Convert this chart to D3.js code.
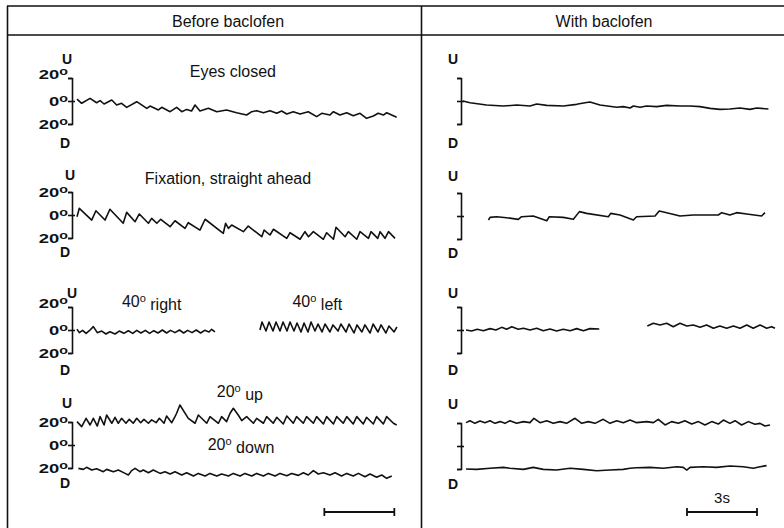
<!DOCTYPE html>
<html>
<head>
<meta charset="utf-8">
<script src="https://cdn.jsdelivr.net/npm/d3@7"></script>
<style>
  body { margin: 0; background: #fff; }
  svg { display: block; }
  text { font-family: "Liberation Sans", Arial, Helvetica, sans-serif; fill: #111; }
</style>
</head>
<body>
<div id="chart"></div>
<script>
// panel headings and row captions
const panelTitles = ["Before baclofen", "With baclofen"];
const scaleBarLabel = "3s";
const degTicks = [20, 0, -20];

// eye position traces: [time (s), vertical position (deg, up +)]
const eyesClosedBefore = [[0,1.7],[0.2,-2.0],[0.56,2.3],[0.84,-1.5],[0.99,0.3],[1.16,-2.6],[1.49,0.9],[1.7,-3.5],[1.91,-2.0],[2.13,-5.5],[2.56,-0.6],[2.99,-6.4],[3.13,-4.4],[3.49,-7.8],[3.63,-5.5],[3.99,-9.3],[4.27,-5.5],[4.49,-9.3],[4.7,-7.3],[4.91,-8.7],[5.06,-3.5],[5.27,-8.7],[5.63,-6.4],[5.99,-9.3],[6.41,-7.8],[6.84,-10.2],[7.27,-12.2],[7.49,-9.3],[7.7,-8.4],[7.99,-10.2],[8.27,-8.4],[8.56,-10.7],[8.77,-8.7],[8.99,-11.3],[9.27,-9.3],[9.56,-11.3],[9.91,-9.3],[10.27,-13.6],[10.49,-10.7],[10.84,-12.2],[10.99,-9.3],[11.27,-12.2],[11.56,-10.2],[11.84,-12.8],[12.13,-10.7],[12.41,-15.1],[12.7,-13.1],[12.91,-10.7],[13.13,-12.2],[13.27,-10.2],[13.7,-14.2]];

const fixationBefore = [[0,-1.5],[0.1,5.8],[0.63,-4.4],[0.81,3.7],[1.2,-4.4],[1.41,5.0],[1.98,-7.2],[2.13,2.3],[2.49,-5.8],[2.67,0.9],[3.06,-7.2],[3.2,-2.9],[3.42,-7.2],[3.59,-3.7],[3.99,-10.2],[4.2,-5.0],[4.63,-11.6],[4.77,-6.7],[5.27,-13.1],[5.49,-3.7],[6.27,-15.9],[6.37,-7.2],[6.49,-11.6],[6.63,-8.7],[7.13,-14.5],[7.34,-9.6],[7.92,-18.9],[8.02,-13.1],[8.27,-17.4],[8.42,-12.4],[8.99,-20.3],[9.13,-15.4],[9.56,-21.1],[9.77,-14.5],[9.92,-18.9],[10.13,-14.5],[10.56,-21.1],[10.7,-15.4],[10.99,-21.1],[11.1,-10.7],[11.49,-18.9],[11.63,-14.5],[11.99,-21.1],[12.13,-14.5],[12.49,-20.3],[12.6,-14.5],[12.89,-20.3],[12.99,-14.5],[13.2,-20.3],[13.35,-14.5],[13.63,-20.3]];

const right40Before = [[0,0.6],[0.1,-2.3],[0.24,-0.3],[0.39,-2.9],[0.53,-0.6],[0.7,2.9],[0.87,-2.3],[1.06,-0.9],[1.24,-3.5],[1.41,-1.5],[1.63,-3.5],[1.81,-0.9],[2.01,-2.9],[2.2,-0.6],[2.39,-2.9],[2.56,-0.3],[2.74,-2.6],[2.93,-0.3],[3.11,-2.9],[3.29,-0.6],[3.47,-2.6],[3.66,0],[3.84,-2.6],[4.01,-0.3],[4.2,-2.3],[4.39,0],[4.57,-2.6],[4.74,-0.3],[4.93,-2.3],[5.11,0],[5.3,-2.6],[5.47,-0.3],[5.66,-1.7],[5.77,0.6],[5.91,-1.7]];

const left40Before = [[7.84,0],[7.93,7.0],[8.1,-0.9],[8.23,7.0],[8.4,-0.9],[8.53,7.0],[8.7,-0.9],[8.83,7.0],[9.0,-0.9],[9.13,7.0],[9.3,-0.9],[9.43,6.1],[9.6,-1.7],[9.73,6.1],[9.9,-1.7],[10.03,7.0],[10.2,-0.9],[10.33,5.2],[10.5,-1.7],[10.63,5.2],[10.84,-1.7],[10.97,4.4],[11.19,-0.9],[11.31,5.2],[11.53,-1.7],[11.66,5.2],[11.87,-2.6],[12.0,4.4],[12.21,-1.7],[12.34,4.4],[12.56,-2.6],[12.69,5.2],[12.9,-1.7],[13.03,4.4],[13.24,-2.6],[13.37,3.5],[13.59,-1.7],[13.71,2.6]];

const up20Before = [[0,20.3],[0.2,16.0],[0.39,23.2],[0.56,17.4],[0.7,23.2],[0.87,16.5],[0.99,24.7],[1.16,17.4],[1.27,26.1],[1.49,18.9],[1.63,24.1],[1.77,18.9],[1.91,23.2],[2.1,18.9],[2.24,22.3],[2.41,18.9],[2.56,23.2],[2.73,19.4],[2.87,22.3],[3.06,18.9],[3.2,21.8],[3.39,19.4],[3.53,23.2],[3.73,18.9],[3.84,25.2],[4.06,19.4],[4.2,24.7],[4.27,27.6],[4.41,34.8],[4.77,23.2],[5.06,18.9],[5.2,26.1],[5.56,18.9],[5.7,24.7],[6.06,18.9],[6.2,24.7],[6.41,20.3],[6.56,27.6],[6.7,31.9],[6.91,26.1],[7.06,21.2],[7.27,24.7],[7.56,18.9],[7.7,23.2],[7.99,18.9],[8.13,24.7],[8.41,18.9],[8.56,24.1],[8.84,18.3],[8.99,25.2],[9.27,18.9],[9.41,24.7],[9.7,18.9],[9.84,24.7],[10.13,18.9],[10.27,24.7],[10.56,18.3],[10.7,24.7],[10.99,18.3],[11.13,24.7],[11.41,18.9],[11.56,24.7],[11.84,18.3],[11.99,24.7],[12.27,18.3],[12.41,24.1],[12.7,18.3],[12.84,24.7],[13.13,18.3],[13.27,24.7],[13.56,18.9],[13.7,17.4]];

const down20Before = [[0.06,-20.3],[0.27,-21.2],[0.41,-19.4],[0.63,-21.8],[0.84,-20.6],[1.13,-23.2],[1.27,-21.2],[1.56,-23.2],[1.77,-21.8],[2.06,-24.7],[2.2,-26.1],[2.34,-22.3],[2.49,-20.3],[2.7,-23.2],[2.84,-21.8],[3.06,-24.1],[3.27,-21.8],[3.56,-24.7],[3.77,-23.2],[3.99,-25.2],[4.2,-23.2],[4.49,-26.1],[4.7,-24.1],[4.99,-27.0],[5.2,-24.7],[5.49,-27.0],[5.7,-24.7],[5.99,-27.0],[6.2,-25.2],[6.49,-27.0],[6.7,-24.7],[6.99,-27.0],[7.2,-24.7],[7.49,-27.0],[7.7,-24.7],[7.99,-27.0],[8.2,-24.7],[8.49,-27.0],[8.7,-24.7],[8.99,-26.7],[9.2,-24.7],[9.49,-26.4],[9.7,-24.1],[9.91,-26.1],[10.13,-22.3],[10.34,-25.2],[10.56,-24.1],[10.84,-26.1],[11.06,-24.1],[11.34,-27.0],[11.56,-24.7],[11.84,-27.0],[12.06,-24.7],[12.34,-27.6],[12.56,-25.2],[12.84,-28.1],[13.06,-26.1],[13.27,-29.0],[13.49,-27.0]];

const eyesClosedWith = [[0,0],[0.3,-1.5],[1.01,-3.5],[1.73,-4.4],[2.3,-3.5],[2.87,-4.4],[3.16,-2.6],[3.59,-3.8],[4.3,-4.4],[4.87,-2.9],[5.23,-1.5],[5.44,-0.9],[5.87,-3.5],[6.59,-5.5],[6.87,-4.9],[7.16,-6.1],[7.3,-4.4],[7.59,-5.5],[7.87,-4.4],[8.3,-4.9],[8.73,-3.8],[9.3,-4.4],[9.73,-4.4],[10.16,-4.9],[10.59,-6.4],[11.01,-7.3],[11.44,-7.0],[11.87,-6.1],[12.3,-7.3],[12.59,-6.1],[13.09,-7.0]];

const fixationWith = [[1.09,-3.5],[1.16,-1.2],[1.44,-0.6],[1.87,-1.5],[2.37,-2.9],[2.51,-0.6],[3.01,0],[3.59,-4.1],[3.7,-0.6],[4.3,-1.2],[4.73,-2.9],[4.99,3.8],[5.3,2.3],[6.23,-0.6],[6.33,2.3],[6.73,0.9],[7.3,-3.5],[7.44,-0.6],[8.23,0],[8.41,4.4],[8.73,2.9],[9.3,0],[9.87,0.9],[10.94,0.9],[11.09,2.9],[11.44,0.9],[11.73,2.9],[12.16,1.7],[12.8,0],[12.94,2.9]];

const right40With = [[0.13,0],[0.37,-0.9],[0.61,0.6],[0.87,-0.6],[1.16,1.2],[1.41,0],[1.66,2.3],[1.87,0.6],[2.09,2.9],[2.37,0.6],[2.59,1.5],[2.87,0],[3.16,1.5],[3.44,-0.6],[3.73,0.9],[4.01,-0.9],[4.3,0.6],[4.59,-0.6],[4.87,1.2],[5.16,-0.6],[5.44,1.2],[5.84,0.9]];

const left40With = [[7.9,3.5],[8.16,5.8],[8.44,4.4],[8.73,5.8],[9.01,2.9],[9.3,5.8],[9.59,3.5],[9.87,4.4],[10.16,2.3],[10.44,4.4],[10.73,1.5],[11.01,3.5],[11.3,1.5],[11.59,3.5],[11.87,1.5],[12.16,4.4],[12.44,1.5],[12.73,4.4],[13.01,1.5],[13.23,2.9],[13.37,1.5]];

const up20With = [[0.13,20.3],[0.3,22.0],[0.51,19.7],[0.73,21.8],[0.94,20.3],[1.16,22.0],[1.37,19.7],[1.59,21.2],[1.8,19.7],[2.01,22.0],[2.3,19.7],[2.59,21.2],[2.87,20.3],[3.04,24.1],[3.3,20.3],[3.59,22.0],[3.87,19.7],[4.16,21.2],[4.44,19.7],[4.8,24.1],[5.09,19.7],[5.37,21.2],[5.66,19.7],[6.01,23.2],[6.3,19.7],[6.59,22.0],[6.87,20.3],[7.16,22.6],[7.44,20.3],[7.87,21.2],[8.16,20.3],[8.37,23.2],[8.66,18.3],[8.94,21.2],[9.23,19.7],[9.51,22.0],[9.8,19.1],[10.09,21.2],[10.37,18.3],[10.66,21.2],[10.94,19.1],[11.16,22.6],[11.44,19.7],[11.66,22.0],[11.94,18.3],[12.23,21.2],[12.51,18.9],[12.73,19.7],[12.94,17.4],[13.16,18.3]];

const down20With = [[0.13,-20.0],[0.59,-20.3],[1.16,-19.4],[1.73,-18.6],[2.01,-19.4],[2.59,-20.3],[3.01,-18.6],[3.44,-20.3],[4.01,-20.9],[4.59,-19.4],[5.16,-20.3],[5.73,-21.5],[6.3,-20.9],[6.87,-20.3],[7.16,-19.4],[7.44,-18.9],[8.01,-18.6],[8.59,-19.4],[9.16,-18.0],[9.44,-18.6],[9.59,-20.9],[9.73,-18.6],[10.3,-18.0],[10.87,-18.6],[11.44,-17.4],[12.01,-18.0],[12.44,-19.4],[12.73,-18.0],[13.01,-17.1]];

const width = 784, height = 528;
const svg = d3.select("#chart").append("svg").attr("width", width).attr("height", height);

// 3 s scale bar is 70 px long
const pxPerSec = 70 / 3;
const panels = [
  { title: panelTitles[0], x0: 77, mids: [101, 215, 330, 445], axisX: 72, labels: true,
    rows: [[eyesClosedBefore], [fixationBefore], [right40Before, left40Before], [up20Before, down20Before]] },
  { title: panelTitles[1], x0: 463, mids: [101, 216, 330, 446], axisX: 461, labels: false,
    rows: [[eyesClosedWith], [fixationWith], [right40With, left40With], [up20With, down20With]] },
];
panels.forEach((p) => {
  p.x = d3.scaleLinear().domain([0, 14]).range([p.x0, p.x0 + 14 * pxPerSec]);
  p.y = p.mids.map((m) => d3.scaleLinear().domain([-20, 20]).range([m + 23, m - 23]));
});

// frame
const frame = svg.append("g").attr("stroke", "#111").attr("stroke-width", 1.6).attr("fill", "none");
frame.append("line").attr("x1", 7).attr("x2", width).attr("y1", 6).attr("y2", 6);
frame.append("line").attr("x1", 7).attr("x2", width).attr("y1", 35).attr("y2", 35);
frame.append("line").attr("x1", 7.5).attr("x2", 7.5).attr("y1", 6).attr("y2", height);
frame.append("line").attr("x1", 421.5).attr("x2", 421.5).attr("y1", 6).attr("y2", height);

svg.append("text").attr("x", 228).attr("y", 27).attr("text-anchor", "middle")
  .style("font-size", "16px").text(panels[0].title);
svg.append("text").attr("x", 604).attr("y", 27).attr("text-anchor", "middle")
  .style("font-size", "16px").text(panels[1].title);

function degLabel(sel, num) {
  sel.text(null);
  sel.append("tspan").text(num);
  sel.append("tspan").attr("dy", "-0.45em").style("font-size", "10px").text("o");
}

const line = (p, y) => d3.line().x((d) => p.x(d[0])).y((d) => y(d[1]));

const uOffsets = [19, 17, 14, 19];
const uShift = [-5, -2, 0, -5];
const dOffsets = [19, 14, 17, 15];
const topOnTick = [true, false, true, false];

panels.forEach((p) => {
  p.y.forEach((y, i) => {
    const axis = d3.axisLeft(y).tickValues(degTicks).tickSize(4).tickSizeOuter(4).tickPadding(1)
      .tickFormat((d) => Math.abs(d));
    const g = svg.append("g").attr("transform", `translate(${p.axisX},0)`).call(axis)
      .attr("font-family", null).attr("font-size", null);
    g.select(".domain").attr("stroke", "#111").attr("stroke-width", 1.6);
    g.selectAll(".tick line").attr("stroke", "#111").attr("stroke-width", 1.6);
    g.selectAll(".tick").filter((d) => d === 0).select("line").attr("x1", 3);
    if (p.labels) {
      g.selectAll(".tick text")
        .attr("x", 0)
        .attr("dy", (d) => (d === 20 && topOnTick[i] ? "0.05em" : "0.36em"))
        .attr("transform", "translate(-4,0) scale(1.42,1)")
        .style("font-size", "13px").style("font-weight", "bold")
        .each(function (d) { degLabel(d3.select(this), Math.abs(d)); });
    } else {
      g.selectAll(".tick text").remove();
    }
    svg.append("text").attr("x", p.axisX + (p.labels ? uShift[i] : -8)).attr("y", y(20) - uOffsets[i])
      .attr("dy", "0.35em").attr("text-anchor", "middle")
      .style("font-size", "14px").style("font-weight", "bold").text("U");
    svg.append("text").attr("x", p.axisX - (p.labels ? 7 : 8)).attr("y", y(-20) + dOffsets[i])
      .attr("dy", "0.35em").attr("text-anchor", "middle")
      .style("font-size", "14px").style("font-weight", "bold").text("D");

    p.rows[i].forEach((trace) => {
      svg.append("path").datum(trace).attr("d", line(p, y))
        .attr("fill", "none").attr("stroke", "#111").attr("stroke-width", 1.6)
        .attr("stroke-linejoin", "round");
    });
  });
});

// row captions in the left panel
const L = panels[0];
function caption(x, y, parts) {
  const t = svg.append("text").attr("x", x).attr("y", y).attr("text-anchor", "middle").style("font-size", "16px");
  parts.forEach(([txt, sup]) => {
    if (sup) {
      t.append("tspan").attr("dy", "-0.5em").style("font-size", "11px").text(txt);
    } else {
      const s = t.append("tspan").text(txt);
      if (t.selectAll("tspan").size() > 1) s.attr("dy", "0.5em");
    }
  });
}
caption(L.x(6.68), L.y[0](25) + 5, [["Eyes closed"]]);
caption(L.x(6.47), L.y[1](31) + 5, [["Fixation, straight ahead"]]);
caption(L.x(3.2), L.y[2](24) + 5, [["40"], ["o", true], [" right"]]);
caption(L.x(10.3), L.y[2](24) + 5, [["40"], ["o", true], [" left"]]);
caption(L.x(6.98), L.y[3](46) + 5, [["20"], ["o", true], [" up"]]);
caption(L.x(7.03), L.y[3](0) + 5, [["20"], ["o", true], [" down"]]);

// 3 s scale bars
[[L, 10.6], [panels[1], 9.6]].forEach(([p, t0]) => {
  const bar = svg.append("g").attr("stroke", "#111").attr("stroke-width", 1.8);
  const x1 = p.x(t0), x2 = p.x(t0 + 3);
  bar.append("line").attr("x1", x1).attr("x2", x2).attr("y1", 512).attr("y2", 512);
  bar.append("line").attr("x1", x1).attr("x2", x1).attr("y1", 508).attr("y2", 516);
  bar.append("line").attr("x1", x2).attr("x2", x2).attr("y1", 508).attr("y2", 516);
});
svg.append("text").attr("x", panels[1].x(11.1)).attr("y", 503).attr("text-anchor", "middle")
  .style("font-size", "15px").text(scaleBarLabel);
</script>
</body>
</html>
